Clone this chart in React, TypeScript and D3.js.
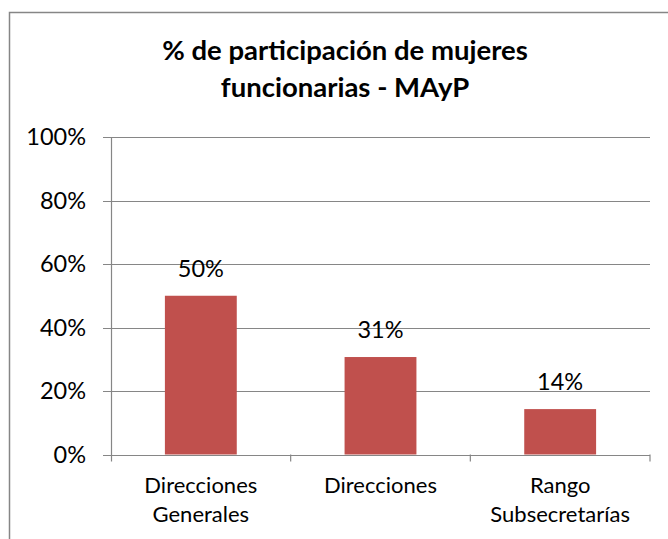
import React from "react";
import * as d3 from "d3";

const categories: string[][] = [["Direcciones", "Generales"], ["Direcciones"], ["Rango", "Subsecretarías"]];
const values: number[] = [0.5, 0.307, 0.143];
const yTicks: number[] = [0, 0.2, 0.4, 0.6, 0.8, 1.0];
const titleLines: string[] = ["% de participación de mujeres", "funcionarias - MAyP"];

export default function App() {
  const W = 668, H = 539;
  const left = 111, right = 650, top = 137, bottom = 454.5;
  const x = d3.scaleBand<number>().domain(d3.range(categories.length)).range([left, right]).paddingInner(0.6).paddingOuter(0.3);
  const y = d3.scaleLinear().domain([0, 1]).range([bottom, top]);
  const fmt = d3.format(".0%");
  const grid = "#868686";
  const font = "Lato, 'Open Sans', sans-serif";
  const cat = d3.scaleBand<number>().domain(d3.range(categories.length)).range([left, right]);
  return (
    <svg width={W} height={H} style={{ position: "absolute", left: 0, top: 0, background: "#fff" }} fontFamily={font}>
      <rect x={9.5} y={12.5} width={W + 20} height={H + 20} fill="#fff" stroke={grid} strokeWidth={1.5} />
      {titleLines.map((t, i) => (
        <text key={t} x={345} y={60 + i * 36.7} textAnchor="middle" fontWeight="bold" fontSize={27.5} fill="#000">{t}</text>
      ))}
      {yTicks.map((t) => (
        <g key={t}>
          <line x1={left - 8} x2={right} y1={Math.round(y(t)) + 0.5} y2={Math.round(y(t)) + 0.5} stroke={grid} strokeWidth={1.2} />
          <text x={86} y={y(t)} dy="0.35em" textAnchor="end" fontSize={23.5} fill="#000">{fmt(t)}</text>
        </g>
      ))}
      <line x1={left + 0.5} x2={left + 0.5} y1={top} y2={bottom + 7} stroke={grid} strokeWidth={1.2} />
      {d3.range(categories.length).map((i) => (
        <line key={"t" + i} x1={cat(i)! + cat.bandwidth()} x2={cat(i)! + cat.bandwidth()} y1={bottom} y2={bottom + 7} stroke={grid} strokeWidth={1.2} />
      ))}
      {values.map((v, i) => (
        <g key={i}>
          <rect x={x(i)} y={y(v)} width={x.bandwidth()} height={bottom - y(v)} fill="#C0504D" />
          <text x={x(i)! + x.bandwidth() / 2} y={y(v) - 19} textAnchor="middle" fontSize={23.5} fill="#000">{fmt(v)}</text>
        </g>
      ))}
      {categories.map((lines, i) => (
        <text key={"c" + i} x={cat(i)! + cat.bandwidth() / 2} textAnchor="middle" fontSize={22} fill="#000">
          {lines.map((l, j) => (
            <tspan key={j} x={cat(i)! + cat.bandwidth() / 2} y={493 + j * 29}>{l}</tspan>
          ))}
        </text>
      ))}
    </svg>
  );
}
